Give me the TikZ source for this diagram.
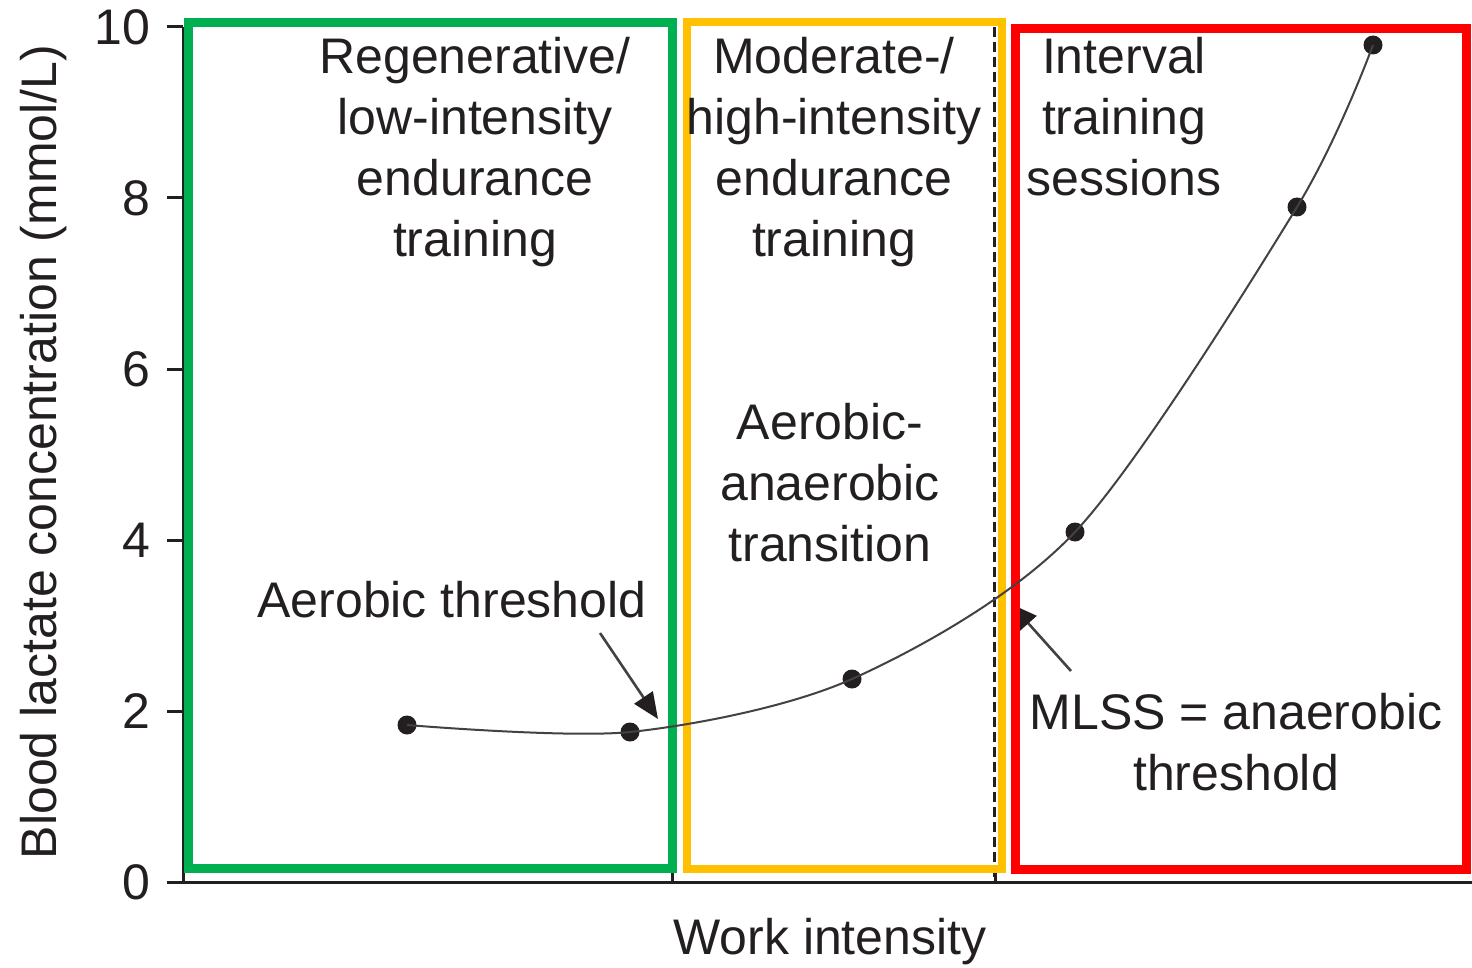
\documentclass[tikz,border=0pt]{standalone}
\usepackage{fontspec}
\setmainfont{Liberation Sans}
\usetikzlibrary{arrows.meta}
\definecolor{ink}{HTML}{231F20}
\definecolor{boxgreen}{HTML}{00B050}
\definecolor{boxyellow}{HTML}{FFC000}
\definecolor{boxred}{HTML}{FF0000}
\tikzset{
  lbl/.style={text=ink, align=center, inner sep=0pt, font=\fontsize{25}{30.5}\selectfont},
  axisline/.style={draw=ink, line width=1.5pt},
  zone/.style={line width=4.5pt},
  curveline/.style={draw=ink!85, line width=1pt},
  dotmark/.style={circle, fill=ink, inner sep=0pt, minimum size=9.5pt},
  pointer/.style={draw=ink!85, line width=1.3pt, -{Triangle[length=13pt,width=11pt,color=ink]}},
  divider/.style={draw=ink, line width=1.7pt, dash pattern=on 5pt off 2.5pt},
}
\begin{document}
\begin{tikzpicture}[x=0.5pt,y=-0.5pt]
\useasboundingbox (0,0) rectangle (1472,968);
% axes
\draw[axisline] (183,27) -- (183,882) -- (1472,882);
\foreach \v/\yy in {0/882,2/711,4/540,6/369,8/198,10/27}{
  \draw[axisline] (167,\yy) -- (183,\yy);
  \node[lbl, anchor=east] (tick\v) at (151,\yy) {\v};
}
\draw[axisline] (672.5,866) -- (672.5,882);
\draw[axisline] (995,866) -- (995,882);
\draw[divider] (994.5,27) -- (994.5,882);
% arrows
\coordinate (athTail) at (600,633);
\coordinate (athTip) at (658,719);
\coordinate (mlssTail) at (1071,671);
\coordinate (mlssTip) at (1011,604);
\draw[pointer] (athTail) -- (athTip);
\draw[pointer] (mlssTail) -- (mlssTip);
% zones
\draw[zone, boxgreen] (188,23) rectangle (672.5,868.5);
\draw[zone, boxyellow, line width=4pt] (686.5,22) rectangle (1002,868.5);
\draw[zone, boxred] (1015,29) rectangle (1466.5,869.5);
% data points and curve
\node[dotmark] (p1) at (407,725) {};
\node[dotmark] (p2) at (630,732) {};
\node[dotmark] (p3) at (852,679) {};
\node[dotmark] (p4) at (1075,532) {};
\node[dotmark] (p5) at (1297,207) {};
\node[dotmark] (p6) at (1373,45) {};
\draw[curveline] plot[smooth, tension=0.5] coordinates {(p1.center) (p2.center) (p3.center) (p4.center) (p5.center) (p6.center)};
% labels
\node[lbl] (regen) at (475,152) {Regenerative/\\low-intensity\\endurance\\training};
\node[lbl] (moder) at (834,152) {Moderate-/\\high-intensity\\endurance\\training};
\node[lbl] (interval) at (1124,117) {Interval\\training\\sessions};
\node[lbl] (transition) at (830,483) {Aerobic-\\anaerobic\\transition};
\node[lbl] (aerobic) at (452,600) {Aerobic threshold};
\node[lbl] (mlss) at (1236,742) {MLSS = anaerobic\\threshold};
\node[lbl] (xlabel) at (830,942) {Work intensity};
\node[lbl, rotate=90] (ylabel) at (44,452) {Blood lactate concentration (mmol/L)};
\end{tikzpicture}
\end{document}
